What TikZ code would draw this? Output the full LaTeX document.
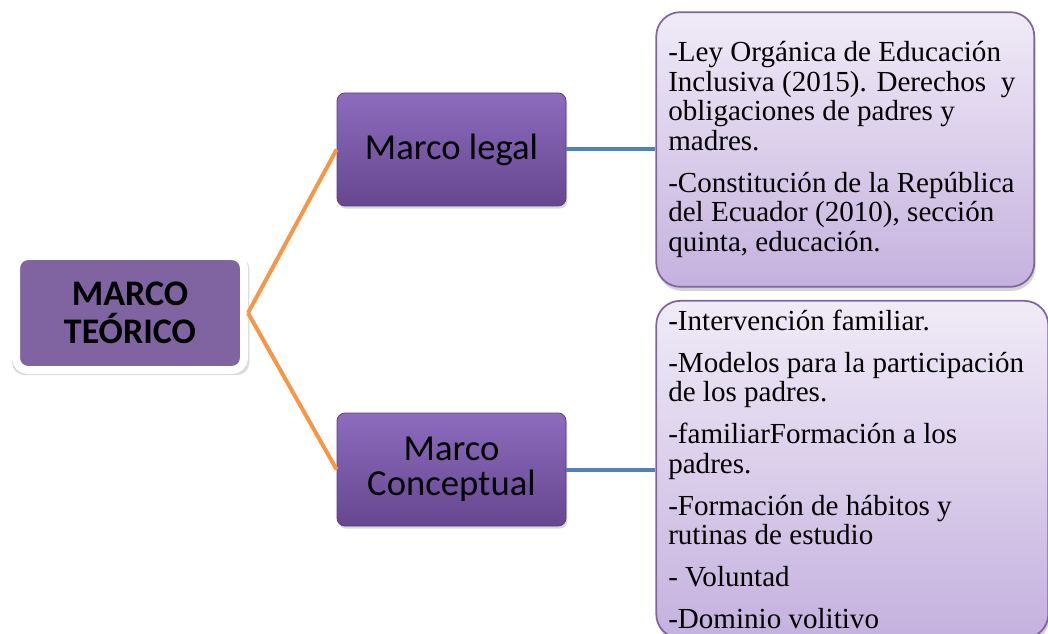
\documentclass[tikz,border=0pt]{standalone}
\usepackage{fontspec}
\setmainfont{Liberation Serif}
\newfontfamily\calibri{Carlito}
\usepackage{tikz}
\usetikzlibrary{positioning}
\usetikzlibrary{shadows}

\definecolor{mtpurple}{HTML}{8064A2}
\definecolor{brtop}{HTML}{8D6BBE}
\definecolor{brbot}{HTML}{66478F}
\definecolor{brline}{HTML}{5A3F80}
\definecolor{lsttop}{HTML}{F0EBF7}
\definecolor{lstbot}{HTML}{C5B1DE}
\definecolor{lstline}{HTML}{8064A2}
\definecolor{orangeln}{HTML}{F79646}
\definecolor{blueln}{HTML}{4F81BD}

\tikzset{
  mainbox/.style={rectangle,rounded corners=9pt,fill=mtpurple,draw=white,line width=6pt,
    minimum width=171pt,minimum height=85.5pt,align=center,
    font=\calibri\bfseries\fontsize{27}{28.5}\selectfont,
    drop shadow={opacity=0.3,shadow scale=1.04,shadow xshift=0.5pt,shadow yshift=-2pt}},
  branchbox/.style={rectangle,rounded corners=6pt,top color=brtop,bottom color=brbot,
    draw=brline,line width=0.6pt,minimum width=171.75pt,minimum height=84.75pt,align=center,
    font=\calibri\fontsize{27.5}{26.5}\selectfont,
    drop shadow={opacity=0.3,shadow xshift=1pt,shadow yshift=-2pt}},
  listbox/.style={rectangle,rounded corners=18pt,top color=lsttop,bottom color=lstbot,
    draw=lstline,line width=1.3pt,align=flush left,inner xsep=9pt,inner ysep=0pt,
    font=\fontsize{21.8}{22.1}\selectfont,
    drop shadow={opacity=0.35,shadow xshift=1pt,shadow yshift=-3pt}},
  orangeline/.style={draw=orangeln,line width=3pt},
  blueline/.style={draw=blueln,line width=3pt}
}

\begin{document}
\begin{tikzpicture}[x=0.75pt,y=-0.75pt]
\useasboundingbox (0,0) rectangle (1048,634);

\node[mainbox](teorico) at (130,313){MARCO\\TEÓRICO};

\node[branchbox](legal) at (451.5,149.5){Marco legal};
\node[branchbox](concep) at (451.5,469.5){Marco\\Conceptual};

\node[listbox,text width=265.5pt,minimum width=283.5pt,minimum height=206pt,right = 66.75pt of legal](ley){%
-Ley Orgánica de Educación\\
Inclusiva (2015). Derechos\ \ y\\
obligaciones de padres y\\
madres.\\[9.4pt]
-Constitución de la República\\
del Ecuador (2010), sección\\
quinta, educación.};

\node[listbox,text width=276pt,minimum width=294pt,minimum height=253pt,right = 66.75pt of concep](temas){%
-Intervención familiar.\\[9.4pt]
-Modelos para la participación\\
de los padres.\\[9.4pt]
-familiarFormación a los\\
padres.\\[9.4pt]
-Formación de hábitos y\\
rutinas de estudio\\[9.4pt]
- Voluntad\\[9.4pt]
-Dominio volitivo};

\draw[orangeline] (teorico.east) -- (legal.west);
\draw[orangeline] (teorico.east) -- (concep.west);
\draw[blueline] (legal.east) -- (ley.west);
\draw[blueline] (concep.east) -- (temas.west);

\end{tikzpicture}
\end{document}
